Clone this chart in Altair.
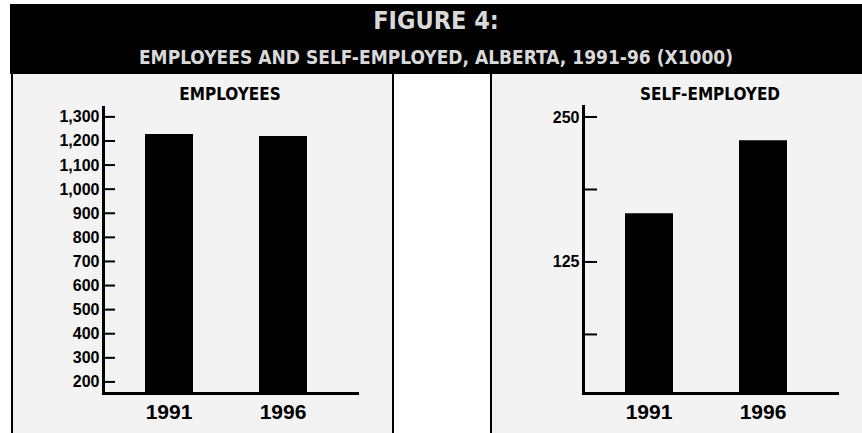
import altair as alt
import pandas as pd

# ---- data ----
years = ["1991", "1996"]
employees = [1229, 1221]          # thousands
self_employed = [167, 230]        # thousands
emp_tick_values = [200, 300, 400, 500, 600, 700, 800, 900, 1000, 1100, 1200, 1300]
self_tick_values = [62.5, 125, 187.5, 250]
self_label_values = [125, 250]

title_text = "FIGURE 4:"
subtitle_text = "EMPLOYEES AND SELF-EMPLOYED, ALBERTA, 1991-96 (X1000)"
panel_titles = ["EMPLOYEES", "SELF-EMPLOYED"]

# ---- style ----
W, H = 862, 433
NARROW = "Liberation Sans Narrow, DejaVu Sans Condensed, Liberation Sans, sans-serif"
SANS = "Liberation Sans, Noto Sans, sans-serif"
PANEL = "#f3f3f3"
HEADTXT = "#d9d9d9"

EMP_DOMAIN = [154, 1341]
SELF_DOMAIN = [12, 259.5]

one = pd.DataFrame({"k": [0]})


def rect(x, x2, y, y2, color):
    return alt.Chart(one).mark_rect(color=color, strokeWidth=0).encode(
        x=alt.value(x), x2=alt.value(x2), y=alt.value(y), y2=alt.value(y2)
    )


def label(text, x, y, size, color, font):
    return alt.Chart(pd.DataFrame({"t": [text]})).mark_text(
        x=x, y=y, align="center", baseline="alphabetic", fontSize=size,
        fontWeight="bold", font=font, color=color
    ).encode(text="t:N")


def band(r0, r1):
    return alt.Scale(domain=years, range=[r0, r1], paddingInner=0.579,
                     paddingOuter=0.4035, align=0.4565)


def xaxis():
    return alt.Axis(orient="bottom", offset=-(H - 393), title=None, ticks=False,
                    domainColor="black", domainWidth=3, domainCap="square",
                    labelAngle=0, labelFont=SANS, labelFontSize=21,
                    labelFontWeight="bold", labelColor="black", labelPadding=8,
                    zindex=2)


def yaxis(offset, values, fmt):
    return alt.Axis(orient="left", offset=offset, title=None, values=values, format=fmt,
                    ticks=False, grid=False, domainColor="black", domainWidth=3,
                    domainCap="square", labelFont=SANS, labelFontSize=16,
                    labelFontWeight="bold", labelColor="black", labelPadding=4,
                    labelFlush=False, labelOverlap=False, zindex=2)


y_left = alt.Scale(domain=EMP_DOMAIN, range=[393, 107], zero=False, nice=False)
y_right = alt.Scale(domain=SELF_DOMAIN, range=[393, 106], zero=False, nice=False)

emp_df = pd.DataFrame({"year": years, "value": employees})
self_df = pd.DataFrame({"year": years, "value": self_employed})

left_bars = alt.Chart(emp_df).mark_bar(color="black").encode(
    x=alt.X("year:N", scale=band(103, 357), axis=xaxis()),
    y=alt.Y("value:Q", scale=y_left, axis=yaxis(-103, emp_tick_values, ",d")),
    y2=alt.datum(EMP_DOMAIN[0]),
)
left_ticks = alt.Chart(pd.DataFrame({"v": emp_tick_values})).mark_rule(
    color="black", strokeWidth=2).encode(
    y=alt.Y("v:Q", scale=y_left, axis=None), x=alt.value(103), x2=alt.value(115)
)

right_bars = alt.Chart(self_df).mark_bar(color="black").encode(
    x=alt.X("year:N", scale=band(583, 837), axis=xaxis()),
    y=alt.Y("value:Q", scale=y_right, axis=yaxis(-583, self_label_values, "d")),
    y2=alt.datum(SELF_DOMAIN[0]),
)
right_ticks = alt.Chart(pd.DataFrame({"v": self_tick_values})).mark_rule(
    color="black", strokeWidth=2).encode(
    y=alt.Y("v:Q", scale=y_right, axis=None), x=alt.value(583), x2=alt.value(597)
)

layers = [
    rect(10, W, 4, 74, "black"),
    rect(13, 392, 74, H, PANEL),
    rect(492, W, 74, H, PANEL),
    rect(11, 13, 74, H, "black"),
    rect(392, 394, 74, H, "black"),
    rect(490, 492, 74, H, "black"),
    label(title_text, 436, 29, 25, HEADTXT, NARROW),
    label(subtitle_text, 436, 64, 19, HEADTXT, NARROW),
    label(panel_titles[0], 230, 100, 17, "black", NARROW),
    label(panel_titles[1], 710, 100, 17, "black", NARROW),
    left_bars, left_ticks, right_bars, right_ticks,
]

chart = alt.layer(*layers).resolve_scale(
    x="independent", y="independent"
).properties(
    width=W, height=H, padding=0,
    autosize=alt.AutoSizeParams(type="none"),
    background="white",
).configure_view(stroke=None)

chart.save("out.html", embed_options={"renderer": "svg", "actions": False})
